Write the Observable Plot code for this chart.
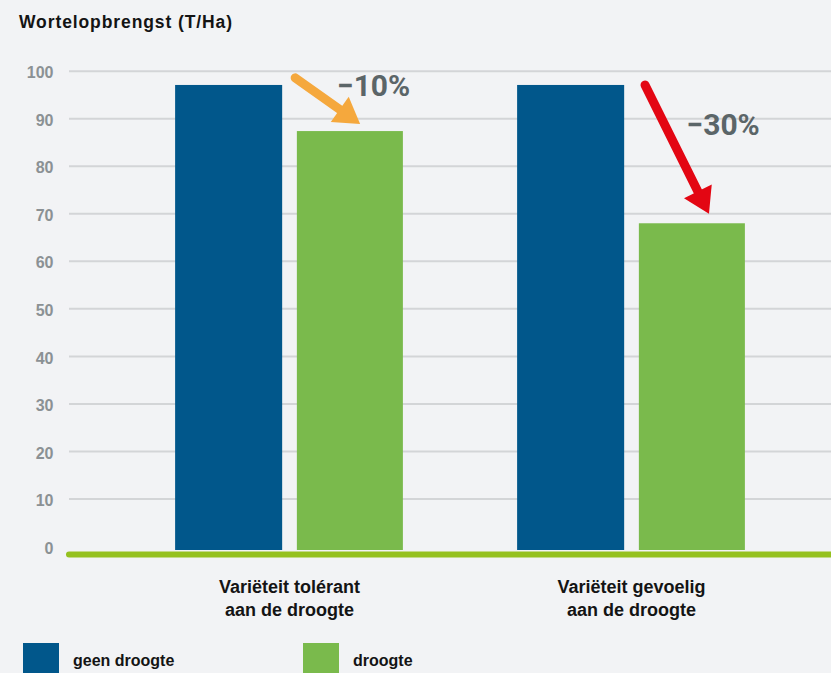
<!DOCTYPE html>
<html>
<head>
<meta charset="utf-8">
<script src="https://cdn.jsdelivr.net/npm/d3@7"></script>
<script src="https://cdn.jsdelivr.net/npm/@observablehq/plot@0.6"></script>
<style>
  html, body { margin: 0; padding: 0; background: #f2f3f5; }
  body { width: 831px; height: 673px; overflow: hidden; position: relative; }
  .title {
    height: 40px; box-sizing: border-box; padding: 12px 0 0 19px;
    font: 700 17.5px "Liberation Sans", Arial, sans-serif; letter-spacing: 0.9px; color: #141414;
  }
  #chart svg { display: block; overflow: visible; }
  .legend { position: absolute; top: 643px; left: 0; width: 831px; height: 40px; }
  .legend .item { position: absolute; top: 0; display: flex; align-items: flex-start; }
  .legend .sw { width: 36px; height: 40px; }
  .legend .lab {
    margin: 9px 0 0 14px; font: 700 16px "Liberation Sans", Arial, sans-serif;
    color: #141414;
  }
</style>
</head>
<body>
<div class="title">Wortelopbrengst (T/Ha)</div>
<div id="chart"></div>
<div class="legend" id="legend"></div>
<script>
// Carrot yield (tonnes per hectare), without and with drought
const categories = ["Variëteit tolérant\naan de droogte", "Variëteit gevoelig\naan de droogte"];
const series = ["geen droogte", "droogte"];
const geenDroogte = [97, 97];
const droogte = [87.3, 67.9];
const yTicks = [0, 10, 20, 30, 40, 50, 60, 70, 80, 90, 100];
const colors = ["#01578b", "#7aba4c"];

// Annotation arrows (x = group index + offset inside the group, y = yield)
const arrowColors = ["#f5a83d", "#e30613"];
const arrowFromX = [0.018, 1.041];
const arrowFromY = [98.5, 97.0];
const arrowToX = [0.208, 1.228];
const arrowToY = [88.8, 69.9];
const labelX = [0.246, 1.268];
const labelY = [96.8, 88.5];

// Bar placement within a group, in group-step units
const barSpan = {"geen droogte": [-0.333, -0.02], "droogte": [0.023, 0.333]};

const bars = [];
categories.forEach((c, i) => {
  bars.push({i, series: series[0], value: geenDroogte[i]});
  bars.push({i, series: series[1], value: droogte[i]});
});

const changes = categories.map((c, i) => {
  const pct = Math.round((droogte[i] - geenDroogte[i]) / geenDroogte[i] * 100);
  return {
    x: labelX[i], y: labelY[i],
    text: (pct < 0 ? "\u2212" : "+") + Math.abs(pct) + "%"
  };
});

const arrows = categories.map((c, i) => ({
  x1: arrowFromX[i], y1: arrowFromY[i], x2: arrowToX[i], y2: arrowToY[i], color: arrowColors[i]
}));

// Thick arrows with a filled triangular head, positioned through the plot scales
function arrowMark(index, scales) {
  const g = d3.create("svg:g");
  for (const a of arrows) {
    const x1 = scales.x(a.x1), y1 = scales.y(a.y1);
    const x2 = scales.x(a.x2), y2 = scales.y(a.y2);
    const dx = x2 - x1, dy = y2 - y1, len = Math.hypot(dx, dy);
    const ux = dx / len, uy = dy / len;
    const headLen = 25, halfW = 15.5;
    const bx = x2 - ux * headLen, by = y2 - uy * headLen;
    g.append("line")
      .attr("x1", x1).attr("y1", y1)
      .attr("x2", bx + ux * 2).attr("y2", by + uy * 2)
      .attr("stroke", a.color).attr("stroke-width", 9).attr("stroke-linecap", "round");
    g.append("path")
      .attr("d", `M${x2},${y2}L${bx - uy * halfW},${by + ux * halfW}L${bx + uy * halfW},${by - ux * halfW}Z`)
      .attr("fill", a.color);
  }
  return g.node();
}

const plot = Plot.plot({
  width: 831,
  height: 590,
  marginLeft: 69,
  marginRight: 0,
  marginTop: 30.7,
  marginBottom: 84,
  style: {background: "transparent", fontFamily: "'Liberation Sans', Arial, sans-serif", overflow: "visible"},
  x: {domain: [0, 1], range: [289, 631], axis: null},
  y: {domain: [0, 100], axis: null},
  color: {domain: series, range: colors},
  marks: [
    Plot.ruleY(yTicks.filter(t => t > 0), {stroke: "#d3d5d7", strokeWidth: 2}),
    Plot.text(yTicks, {
      y: d => d, text: d => String(d), frameAnchor: "left", textAnchor: "end", dx: -16, dy: 2,
      fontSize: 16, fontWeight: 700, fill: "#8b9194", letterSpacing: 0.5
    }),
    Plot.rectY(bars, {
      x1: d => d.i + barSpan[d.series][0],
      x2: d => d.i + barSpan[d.series][1],
      y1: 0, y2: "value", fill: "series", insetBottom: -4
    }),
    Plot.ruleY([0], {stroke: "#95c11f", strokeWidth: 6, strokeLinecap: "round", dy: 8}),
    Plot.text(categories, {
      x: (d, i) => i, y: 0, text: d => d, dy: 30, lineAnchor: "top", lineHeight: 1.28,
      fontSize: 18, fontWeight: 700, fill: "#141414", letterSpacing: 0.1
    }),
    arrowMark,
    Plot.text(changes, {
      x: "x", y: "y", text: "text", fontSize: 30, fontWeight: 700, fill: "#5b6568",
      fontFamily: "Roboto, 'Liberation Sans', sans-serif", lineAnchor: "middle"
    })
  ]
});
document.getElementById("chart").appendChild(plot);

// Legend
const legend = document.getElementById("legend");
const legendLeft = [23, 303];
series.forEach((s, i) => {
  const item = document.createElement("div");
  item.className = "item";
  item.style.left = legendLeft[i] + "px";
  const sw = document.createElement("div");
  sw.className = "sw";
  sw.style.background = colors[i];
  const lab = document.createElement("div");
  lab.className = "lab";
  lab.textContent = s;
  item.appendChild(sw);
  item.appendChild(lab);
  legend.appendChild(item);
});
</script>
</body>
</html>
